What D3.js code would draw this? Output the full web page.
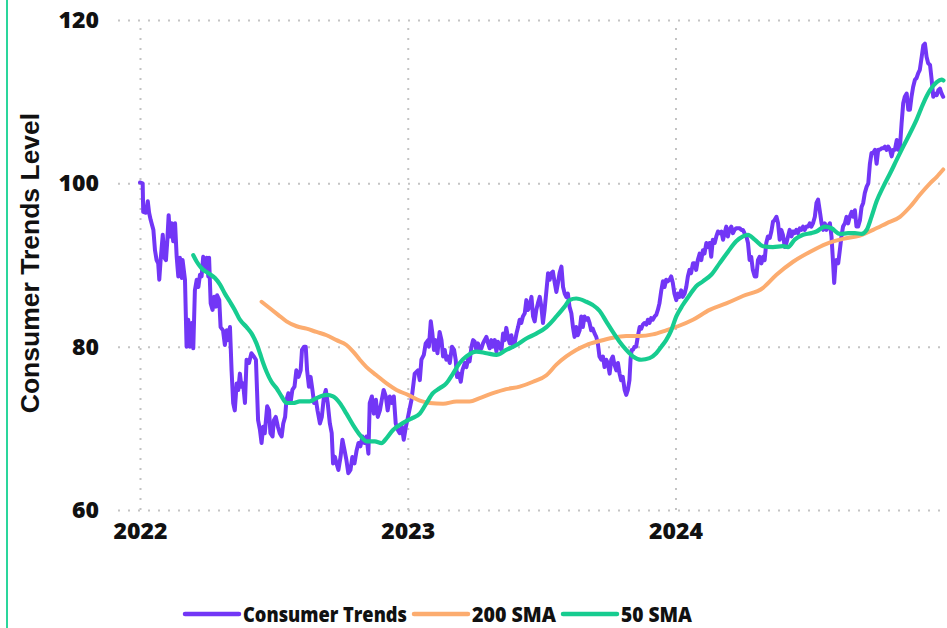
<!DOCTYPE html>
<html>
<head>
<meta charset="utf-8">
<script src="https://cdn.jsdelivr.net/npm/d3@7"></script>
<style>
  html, body { margin: 0; padding: 0; background: #fff; }
  svg { display: block; }
</style>
</head>
<body>
<script>
// decimal years and levels
const trendYears = [
  2022.000, 2022.010, 2022.012, 2022.022, 2022.029, 2022.034, 2022.040, 2022.050, 2022.056, 2022.062,
  2022.068, 2022.072, 2022.077, 2022.085, 2022.091, 2022.097, 2022.102, 2022.107, 2022.112, 2022.118,
  2022.124, 2022.131, 2022.137, 2022.143, 2022.149, 2022.156, 2022.159, 2022.168, 2022.174, 2022.180,
  2022.187, 2022.193, 2022.199, 2022.205, 2022.212, 2022.218, 2022.224, 2022.230, 2022.236, 2022.243,
  2022.249, 2022.255, 2022.258, 2022.264, 2022.271, 2022.277, 2022.284, 2022.288, 2022.296, 2022.301,
  2022.310, 2022.317, 2022.324, 2022.329, 2022.336, 2022.342, 2022.348, 2022.354, 2022.361, 2022.367,
  2022.373, 2022.379, 2022.385, 2022.392, 2022.398, 2022.407, 2022.416, 2022.425, 2022.433, 2022.441,
  2022.448, 2022.454, 2022.460, 2022.466, 2022.475, 2022.482, 2022.487, 2022.495, 2022.500, 2022.507,
  2022.515, 2022.522, 2022.529, 2022.535, 2022.542, 2022.547, 2022.554, 2022.562, 2022.569, 2022.577,
  2022.584, 2022.592, 2022.600, 2022.605, 2022.613, 2022.619, 2022.624, 2022.631, 2022.637, 2022.644,
  2022.650, 2022.657, 2022.663, 2022.672, 2022.679, 2022.687, 2022.694, 2022.701, 2022.709, 2022.716,
  2022.721, 2022.728, 2022.734, 2022.741, 2022.749, 2022.756, 2022.764, 2022.771, 2022.778, 2022.786,
  2022.793, 2022.801, 2022.809, 2022.816, 2022.823, 2022.831, 2022.838, 2022.846, 2022.853, 2022.858,
  2022.866, 2022.873, 2022.881, 2022.888, 2022.896, 2022.903, 2022.910, 2022.918, 2022.925, 2022.933,
  2022.940, 2022.948, 2022.955, 2022.963, 2022.970, 2022.978, 2022.985, 2022.993,
  2023.001, 2023.014, 2023.026, 2023.038, 2023.045, 2023.051, 2023.060, 2023.067, 2023.076, 2023.079,
  2023.086, 2023.092, 2023.098, 2023.104, 2023.111, 2023.119, 2023.126, 2023.132, 2023.138, 2023.144,
  2023.150, 2023.157, 2023.165, 2023.173, 2023.179, 2023.184, 2023.191, 2023.198, 2023.204, 2023.213,
  2023.219, 2023.225, 2023.231, 2023.238, 2023.244, 2023.250, 2023.256, 2023.262, 2023.269, 2023.275,
  2023.281, 2023.287, 2023.294, 2023.300, 2023.306, 2023.312, 2023.318, 2023.325, 2023.331, 2023.337,
  2023.343, 2023.350, 2023.356, 2023.362, 2023.368, 2023.374, 2023.381, 2023.387, 2023.393, 2023.399,
  2023.406, 2023.412, 2023.418, 2023.424, 2023.430, 2023.437, 2023.443, 2023.449, 2023.455, 2023.462,
  2023.468, 2023.474, 2023.480, 2023.486, 2023.493, 2023.499, 2023.505, 2023.511, 2023.518, 2023.524,
  2023.530, 2023.536, 2023.542, 2023.549, 2023.555, 2023.561, 2023.567, 2023.574, 2023.580, 2023.586,
  2023.592, 2023.598, 2023.604, 2023.611, 2023.617, 2023.623, 2023.629, 2023.635, 2023.642, 2023.648,
  2023.654, 2023.660, 2023.667, 2023.673, 2023.679, 2023.685, 2023.691, 2023.698, 2023.704, 2023.710,
  2023.716, 2023.723, 2023.729, 2023.735, 2023.741, 2023.747, 2023.754, 2023.760, 2023.766, 2023.772,
  2023.779, 2023.785, 2023.791, 2023.797, 2023.803, 2023.810, 2023.816, 2023.822, 2023.828, 2023.832,
  2023.836, 2023.841, 2023.847, 2023.853, 2023.859, 2023.866, 2023.872, 2023.878, 2023.884, 2023.891,
  2023.897, 2023.903, 2023.909, 2023.915, 2023.922, 2023.928, 2023.934, 2023.940, 2023.947, 2023.953,
  2023.959, 2023.965, 2023.971, 2023.978, 2023.984, 2023.990, 2023.996,
  2024.003, 2024.009, 2024.015, 2024.021, 2024.027, 2024.034, 2024.040, 2024.046, 2024.052, 2024.058,
  2024.065, 2024.071, 2024.077, 2024.083, 2024.090, 2024.096, 2024.102, 2024.108, 2024.115, 2024.121,
  2024.127, 2024.133, 2024.139, 2024.146, 2024.152, 2024.158, 2024.164, 2024.171, 2024.177, 2024.183,
  2024.189, 2024.195, 2024.201, 2024.208, 2024.214, 2024.220, 2024.226, 2024.232, 2024.239, 2024.245,
  2024.251, 2024.257, 2024.264, 2024.270, 2024.276, 2024.282, 2024.288, 2024.295, 2024.301, 2024.307,
  2024.313, 2024.320, 2024.326, 2024.332, 2024.338, 2024.344, 2024.351, 2024.357, 2024.363, 2024.369,
  2024.376, 2024.382, 2024.388, 2024.394, 2024.400, 2024.407, 2024.413, 2024.419, 2024.425, 2024.432,
  2024.438, 2024.444, 2024.450, 2024.456, 2024.463, 2024.469, 2024.475, 2024.481, 2024.488, 2024.494,
  2024.500, 2024.506, 2024.512, 2024.519, 2024.525, 2024.531, 2024.537, 2024.544, 2024.550, 2024.556,
  2024.562, 2024.568, 2024.575, 2024.581, 2024.587, 2024.591, 2024.596, 2024.599, 2024.606, 2024.612,
  2024.618, 2024.624, 2024.631, 2024.637, 2024.643, 2024.649, 2024.656, 2024.662, 2024.668, 2024.674,
  2024.680, 2024.687, 2024.693, 2024.699, 2024.705, 2024.712, 2024.718, 2024.724, 2024.730, 2024.736,
  2024.743, 2024.749, 2024.755, 2024.761, 2024.768, 2024.774, 2024.780, 2024.786, 2024.792, 2024.799,
  2024.805, 2024.811, 2024.817, 2024.824, 2024.830, 2024.836, 2024.842, 2024.848, 2024.854, 2024.861,
  2024.867, 2024.873, 2024.879, 2024.885, 2024.892, 2024.898, 2024.904, 2024.910, 2024.917, 2024.923,
  2024.929, 2024.935, 2024.941, 2024.948, 2024.954, 2024.960, 2024.966, 2024.973, 2024.979, 2024.985,
  2024.991, 2024.997
];
const trendValues = [
  100.1, 100.0, 96.5, 96.4, 97.8, 96.4, 95.5, 94.3, 91.8, 90.6,
  90.2, 88.2, 90.6, 93.7, 90.9, 90.6, 93.0, 96.1, 93.5, 95.1,
  92.9, 95.1, 91.0, 88.6, 90.9, 88.4, 90.6, 88.2, 80.0, 83.3,
  80.0, 82.9, 79.8, 86.9, 88.2, 87.3, 88.8, 88.6, 91.0, 89.4,
  90.9, 88.6, 90.9, 85.3, 84.5, 86.1, 84.9, 86.3, 85.7, 82.4,
  82.0, 80.2, 82.0, 80.8, 82.4, 77.1, 73.1, 72.2, 75.5, 74.7,
  76.7, 75.1, 75.5, 73.1, 78.4, 78.0, 79.2, 78.8, 78.4, 71.0,
  69.8, 68.2, 70.2, 69.4, 72.7, 72.2, 69.4, 69.0, 71.0, 71.4,
  70.2, 69.4, 69.0, 70.6, 71.4, 73.5, 74.3, 73.1, 74.7, 75.1,
  77.1, 76.3, 77.1, 79.6, 80.0, 80.0, 77.1, 75.1, 76.3, 74.7,
  73.1, 73.5, 72.2, 70.6, 71.4, 73.9, 74.7, 73.1, 70.6, 69.4,
  65.7, 66.5, 65.7, 64.9, 66.5, 68.6, 67.3, 66.1, 64.5, 64.9,
  66.5, 65.7, 67.3, 68.2, 67.8, 69.0, 68.2, 69.0, 66.9, 73.1,
  73.9, 71.8, 73.5, 71.4, 72.2, 73.5, 74.7, 73.9, 72.2, 73.9,
  73.1, 73.9, 70.6, 69.8, 69.4, 70.2, 68.6, 70.2,
  71.4, 73.5, 76.7, 77.1, 75.9, 78.4, 79.0, 80.4, 80.8, 80.0,
  83.1, 81.6, 79.6, 80.8, 79.2, 81.8, 80.8, 78.8, 79.6, 78.4,
  78.8, 78.0, 80.0, 79.6, 78.4, 76.3, 76.7, 75.7, 77.1, 78.0,
  77.5, 78.4, 78.2, 80.0, 80.8, 80.6, 79.6, 80.4, 79.6, 79.8,
  80.4, 80.8, 81.2, 80.4, 79.8, 80.8, 80.0, 80.8, 79.4, 80.6,
  80.0, 79.6, 81.6, 80.8, 82.3, 81.2, 80.4, 81.4, 80.0, 80.4,
  81.6, 82.4, 83.3, 82.9, 83.7, 84.1, 85.7, 84.5, 84.9, 86.1,
  83.7, 83.1, 84.5, 85.3, 86.1, 84.9, 82.9, 84.5, 86.9, 89.0,
  88.2, 89.0, 89.2, 87.8, 86.7, 87.8, 89.0, 89.8, 87.3, 86.5,
  86.1, 86.5, 84.9, 84.1, 82.4, 81.2, 82.4, 81.4, 82.0, 83.7,
  82.4, 83.7, 83.3, 83.5, 82.9, 82.0, 82.2, 81.6, 81.2, 80.4,
  78.8, 78.4, 78.8, 77.5, 78.4, 78.0, 76.7, 78.4, 78.8, 77.8,
  77.1, 78.0, 76.7, 75.9, 76.3, 74.7, 74.1, 74.7, 75.9, 78.4,
  79.6, 79.6, 80.0, 80.0, 81.2, 82.4, 82.2, 82.7, 82.9, 82.7,
  83.3, 82.9, 83.5, 83.3, 83.7, 83.9, 84.5, 85.3, 86.9, 88.0,
  87.3, 88.2, 88.0, 88.2, 88.6, 87.8, 86.5,
  85.7, 86.5, 86.1, 86.9, 86.1, 86.5, 87.3, 88.6, 89.4, 89.0,
  90.2, 90.2, 89.4, 90.6, 91.4, 90.6, 91.8, 91.4, 92.7, 92.2,
  92.7, 91.0, 93.1, 92.7, 93.5, 94.1, 93.9, 94.1, 93.1, 93.9,
  94.7, 93.5, 94.3, 94.7, 93.9, 94.3, 94.5, 94.5, 94.5, 94.3,
  94.3, 93.9, 93.5, 92.7, 90.6, 91.0, 89.4, 88.6, 88.6, 90.6,
  91.0, 90.2, 91.0, 90.6, 92.7, 93.5, 93.3, 94.1, 95.3, 95.5,
  95.9, 95.1, 93.1, 94.3, 93.7, 92.2, 92.7, 93.5, 94.3, 93.5,
  94.1, 93.9, 94.3, 93.9, 94.5, 94.3, 94.7, 94.3, 94.7, 94.7,
  95.1, 94.7, 95.1, 95.9, 97.6, 98.0, 96.7, 95.1, 94.3, 95.1,
  94.3, 94.7, 95.1, 93.5, 90.2, 87.8, 90.2, 90.6, 90.2, 91.8,
  93.5, 94.7, 95.1, 95.9, 95.1, 95.9, 96.5, 95.9, 96.7, 94.7,
  94.7, 95.5, 97.1, 97.6, 98.8, 99.6, 100.0, 102.4, 103.7, 103.7,
  104.1, 102.4, 104.1, 104.1, 104.3, 104.3, 104.5, 104.1, 104.5, 104.1,
  103.3, 104.1, 104.1, 105.3, 104.1, 104.5, 107.3, 109.8, 110.6, 111.0,
  109.0, 109.0, 110.6, 111.8, 112.7, 112.9, 113.5, 113.9, 115.5, 116.9,
  117.1, 115.5, 114.7, 114.5, 112.7, 110.6, 111.0, 110.8, 111.4, 111.6,
  111.0, 110.6
];

const sma200Years = [
  2022.454, 2022.485, 2022.516, 2022.547, 2022.585, 2022.622, 2022.659, 2022.697, 2022.734, 2022.771,
  2022.796, 2022.821, 2022.846, 2022.883, 2022.921, 2022.958, 2023.001, 2023.045, 2023.082, 2023.132,
  2023.182, 2023.231, 2023.269, 2023.318, 2023.368, 2023.418, 2023.468, 2023.518, 2023.555, 2023.592,
  2023.629, 2023.667, 2023.716, 2023.766, 2023.816, 2023.866, 2023.915, 2023.965, 2024.009, 2024.065,
  2024.127, 2024.189, 2024.251, 2024.326, 2024.376, 2024.438, 2024.500, 2024.562, 2024.624, 2024.687,
  2024.736, 2024.786, 2024.836, 2024.873, 2024.910, 2024.948, 2024.973, 2024.997
];
const sma200Values = [
  85.5, 84.7, 83.9, 83.1, 82.5, 82.2, 81.8, 81.4, 80.8, 80.2,
  79.4, 78.4, 77.5, 76.5, 75.5, 74.7, 74.1, 73.4, 73.1, 73.0,
  73.3, 73.3, 73.7, 74.3, 74.8, 75.1, 75.7, 76.5, 77.8, 78.8,
  79.6, 80.2, 80.7, 81.1, 81.3, 81.3, 81.5, 82.0, 82.5, 83.3,
  84.5, 85.3, 86.2, 87.2, 88.8, 90.4, 91.6, 92.6, 93.2, 93.6,
  94.3, 95.1, 95.9, 97.1, 98.6, 100.0, 100.8, 101.7
];

const sma50Years = [
  2022.199, 2022.212, 2022.230, 2022.255, 2022.280, 2022.299, 2022.317, 2022.336, 2022.354, 2022.373,
  2022.398, 2022.417, 2022.435, 2022.448, 2022.460, 2022.473, 2022.491, 2022.510, 2022.529, 2022.547,
  2022.572, 2022.597, 2022.634, 2022.659, 2022.697, 2022.721, 2022.746, 2022.771, 2022.796, 2022.821,
  2022.846, 2022.877, 2022.902, 2022.921, 2022.945, 2022.970, 2023.001, 2023.014, 2023.045, 2023.070,
  2023.094, 2023.119, 2023.144, 2023.169, 2023.194, 2023.219, 2023.256, 2023.294, 2023.331, 2023.368,
  2023.406, 2023.443, 2023.480, 2023.518, 2023.555, 2023.586, 2023.604, 2023.629, 2023.667, 2023.691,
  2023.716, 2023.741, 2023.766, 2023.791, 2023.816, 2023.841, 2023.872, 2023.903, 2023.928, 2023.947,
  2023.965, 2023.984, 2024.003, 2024.027, 2024.052, 2024.077, 2024.102, 2024.133, 2024.164, 2024.195,
  2024.226, 2024.251, 2024.270, 2024.295, 2024.326, 2024.363, 2024.400, 2024.419, 2024.444, 2024.475,
  2024.506, 2024.525, 2024.556, 2024.581, 2024.612, 2024.643, 2024.668, 2024.693, 2024.712, 2024.730,
  2024.749, 2024.774, 2024.799, 2024.824, 2024.848, 2024.873, 2024.898, 2024.923, 2024.948, 2024.973,
  2024.991, 2024.998
];
const sma50Values = [
  91.2, 90.4, 89.6, 89.0, 88.4, 87.6, 86.5, 85.5, 84.5, 83.3,
  82.4, 81.6, 80.4, 79.2, 78.0, 76.9, 75.7, 74.9, 73.9, 73.1,
  73.1, 73.3, 73.3, 73.7, 74.1, 73.9, 73.1, 71.8, 70.4, 69.2,
  68.4, 68.4, 68.2, 68.8, 69.8, 70.4, 71.0, 71.2, 71.8, 73.1,
  74.3, 74.9, 75.5, 76.7, 78.0, 78.8, 79.4, 79.2, 79.0, 79.6,
  80.2, 81.0, 81.6, 82.4, 83.7, 84.9, 85.7, 85.9, 85.5, 85.1,
  84.4, 83.1, 81.8, 80.6, 79.6, 78.8, 78.4, 78.6, 79.2, 80.0,
  80.8, 82.0, 83.7, 85.1, 86.3, 87.4, 88.0, 88.8, 90.2, 91.6,
  92.9, 93.5, 93.7, 93.1, 92.3, 92.2, 92.3, 92.2, 93.1, 93.7,
  93.9, 94.1, 94.7, 94.5, 93.8, 93.9, 93.9, 93.8, 94.3, 95.9,
  97.8, 99.6, 101.2, 102.9, 104.5, 106.1, 107.8, 109.8, 111.4, 112.4,
  112.7, 112.6
];

const yearTicks = [2022, 2023, 2024];
const levelTicks = [60, 80, 100, 120];
const seriesNames = ["Consumer Trends", "200 SMA", "50 SMA"];
const seriesColors = ["#7236f6", "#fcac6f", "#17cc90"];

const width = 947, height = 628;
const margin = {top: 20, right: 3, bottom: 118, left: 140};
const tickFont = "'Open Sans', 'Noto Sans', sans-serif";

function yearToDate(t) {
  const yr = Math.floor(t);
  const start = Date.UTC(yr, 0, 1), end = Date.UTC(yr + 1, 0, 1);
  return new Date(start + (t - yr) * (end - start));
}

function toPoints(years, values) {
  return years.map(function (t, i) { return {date: yearToDate(t), value: values[i]}; });
}

const svg = d3.select("body")
  .append("svg")
  .attr("width", width)
  .attr("height", height);

// thin green frame line on the left edge
svg.append("line")
  .attr("x1", 7).attr("x2", 7)
  .attr("y1", 0).attr("y2", height)
  .attr("stroke", "#2ad69c")
  .attr("stroke-width", 2);

const x = d3.scaleUtc()
  .domain([yearToDate(2022), yearToDate(2025)])
  .range([margin.left, width - margin.right]);

const y = d3.scaleLinear()
  .domain([60, 120])
  .range([height - margin.bottom, margin.top]);

// y axis + horizontal dotted grid
const gridLeft = 118;
const yAxis = svg.append("g")
  .attr("transform", "translate(" + gridLeft + ",0)")
  .call(d3.axisLeft(y)
    .tickValues(levelTicks)
    .tickSize(-(width - margin.right - gridLeft))
    .tickPadding(19));
yAxis.select(".domain").remove();

// x axis + vertical dotted grid
const xAxis = svg.append("g")
  .attr("transform", "translate(0," + (height - margin.bottom) + ")")
  .call(d3.axisBottom(x)
    .tickValues(yearTicks.map(yearToDate))
    .tickFormat(d3.utcFormat("%Y"))
    .tickSize(-(height - margin.bottom - margin.top))
    .tickPadding(13));
xAxis.select(".domain").remove();

svg.selectAll(".tick line")
  .attr("stroke", "#c4c4c4")
  .attr("stroke-width", 2)
  .attr("stroke-dasharray", "2,8");

svg.selectAll(".tick text")
  .attr("font-family", tickFont)
  .attr("font-weight", 800)
  .attr("font-size", 23)
  .attr("fill", "#111");

// y title
svg.append("text")
  .attr("transform", "rotate(-90)")
  .attr("x", -(margin.top + height - margin.bottom) / 2 + 2)
  .attr("y", 39)
  .attr("text-anchor", "middle")
  .attr("font-family", "'Liberation Sans', Arial, sans-serif")
  .attr("font-weight", 700)
  .attr("font-size", 26.5)
  .attr("fill", "#111")
  .text("Consumer Trends Level");

const line = d3.line()
  .x(function (d) { return x(d.date); })
  .y(function (d) { return y(d.value); });

const smooth = d3.line()
  .curve(d3.curveMonotoneX)
  .x(function (d) { return x(d.date); })
  .y(function (d) { return y(d.value); });

svg.append("path")
  .datum(toPoints(trendYears, trendValues))
  .attr("fill", "none")
  .attr("stroke", seriesColors[0])
  .attr("stroke-width", 4)
  .attr("stroke-linejoin", "round")
  .attr("stroke-linecap", "round")
  .attr("d", line);

svg.append("path")
  .datum(toPoints(sma200Years, sma200Values))
  .attr("fill", "none")
  .attr("stroke", seriesColors[1])
  .attr("stroke-width", 4)
  .attr("stroke-linecap", "round")
  .attr("d", smooth);

svg.append("path")
  .datum(toPoints(sma50Years, sma50Values))
  .attr("fill", "none")
  .attr("stroke", seriesColors[2])
  .attr("stroke-width", 4.2)
  .attr("stroke-linecap", "round")
  .attr("d", smooth);

const legendTextWidths = [164, 84, 71];
const legend = svg.append("g").attr("transform", "translate(0,614)");
let lx = 185;
seriesNames.forEach(function (name, i) {
  legend.append("line")
    .attr("x1", lx).attr("x2", lx + 54)
    .attr("y1", 0).attr("y2", 0)
    .attr("stroke", seriesColors[i])
    .attr("stroke-width", 4.5)
    .attr("stroke-linecap", "round");
  legend.append("text")
    .attr("x", lx + 58)
    .attr("y", 0)
    .attr("dy", "0.36em")
    .attr("font-family", tickFont)
    .attr("font-weight", 800)
    .attr("font-size", 21)
    .attr("textLength", legendTextWidths[i])
    .attr("lengthAdjust", "spacingAndGlyphs")
    .attr("fill", "#111")
    .text(name);
  lx += 58 + legendTextWidths[i] + 7;
});
</script>
</body>
</html>
